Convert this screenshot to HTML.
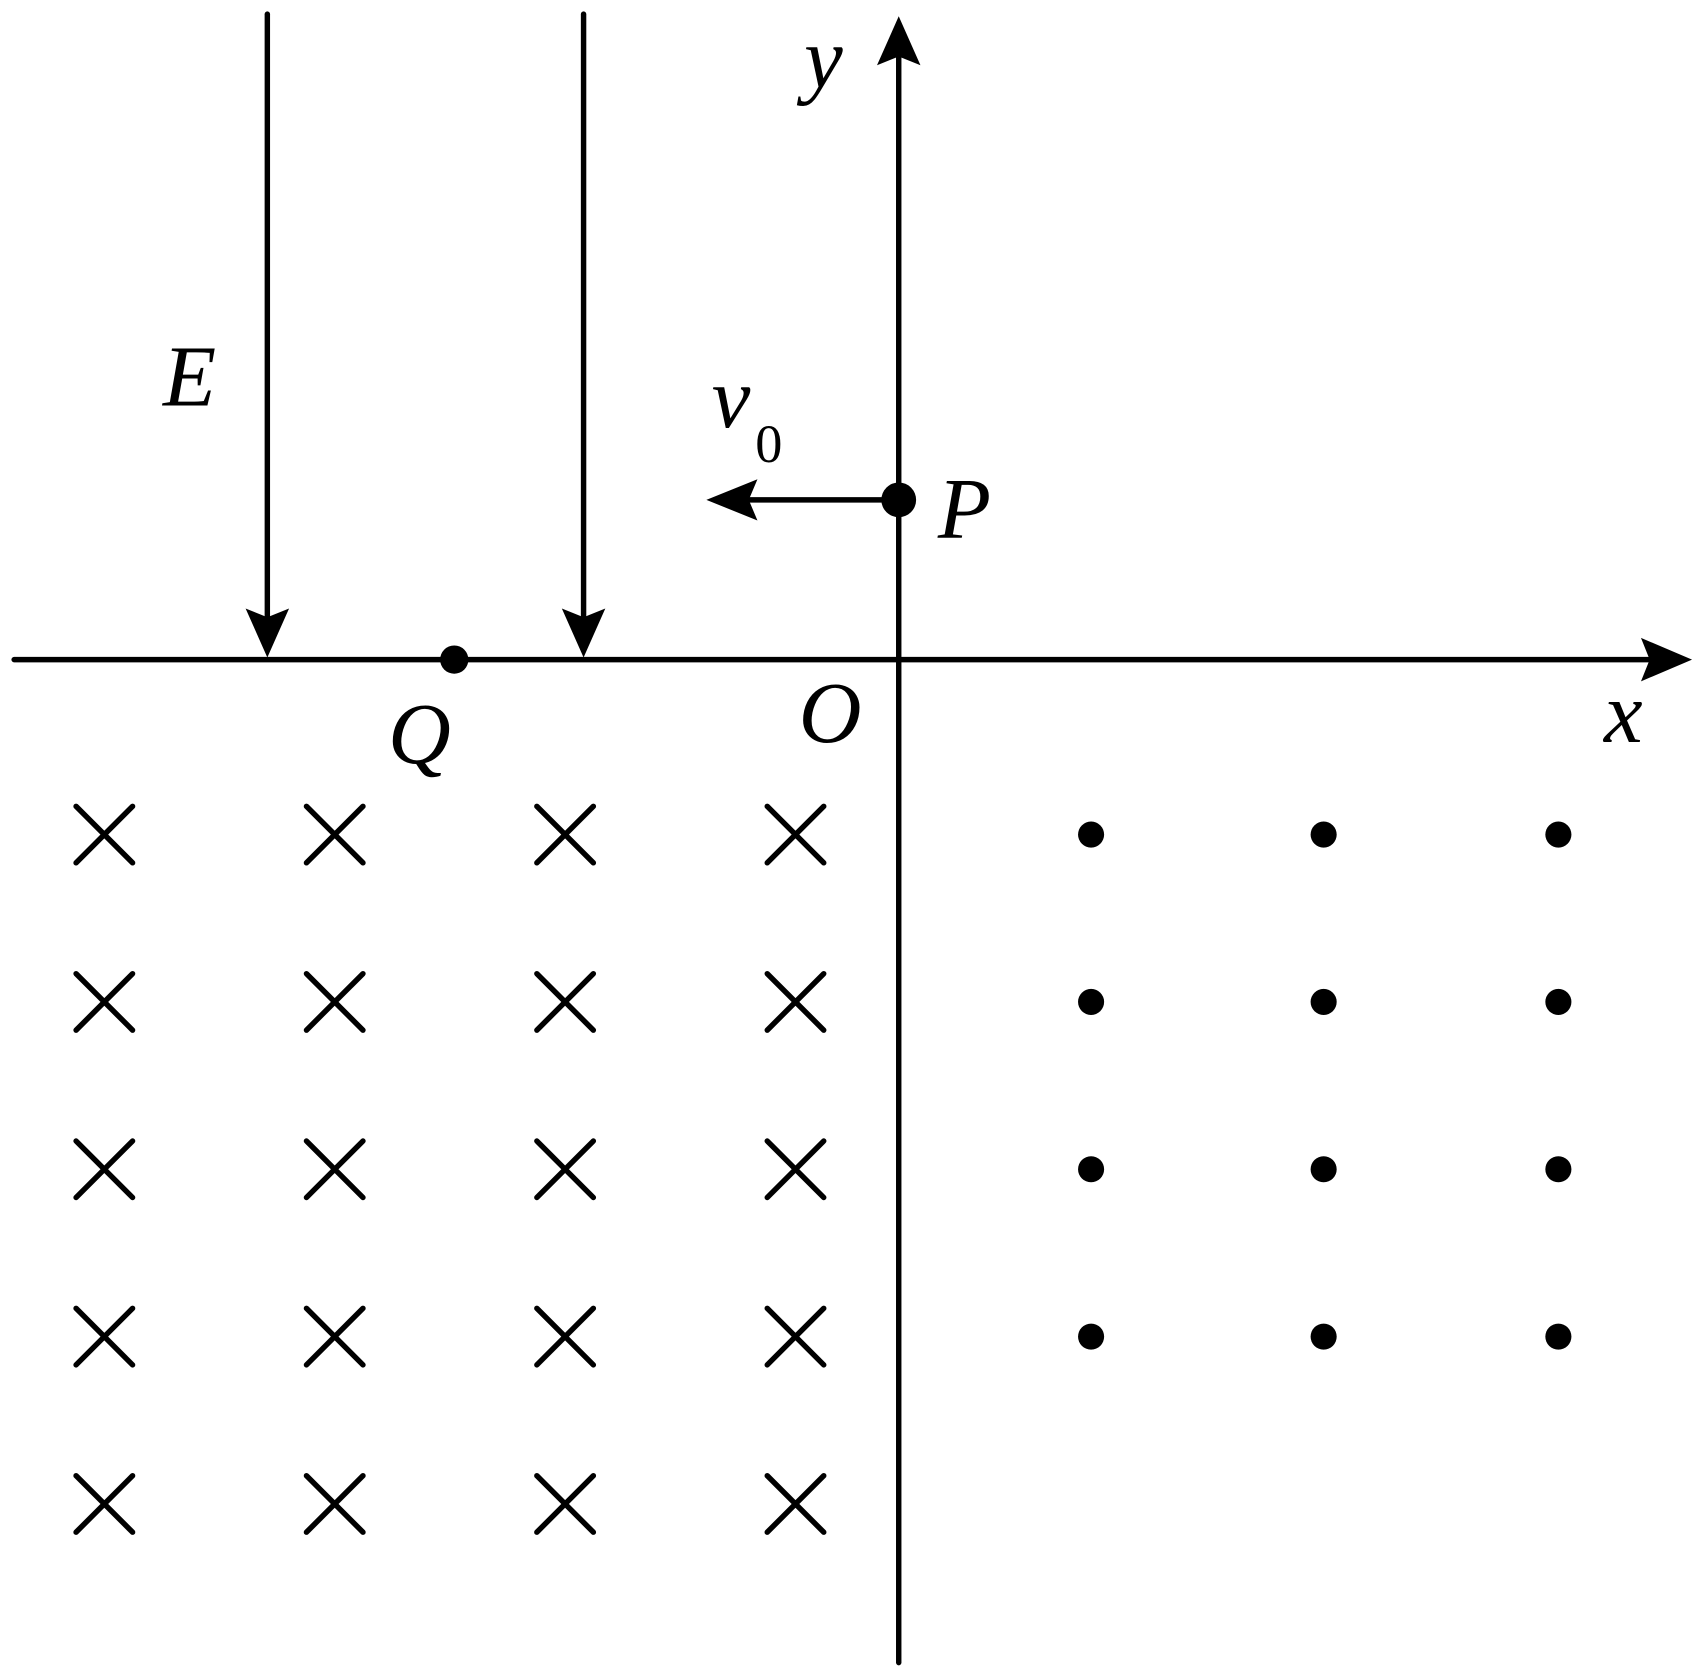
<!DOCTYPE html>
<html><head><style>html,body{margin:0;padding:0;background:#fff}svg{display:block}
.t{font-family:"Liberation Serif","Times New Roman",serif;font-style:italic;font-size:80px}
.s{font-family:"Liberation Serif","Times New Roman",serif;font-size:50px}</style></head>
<body>
<svg width="1704" height="1680" viewBox="0 0 1568 1546" preserveAspectRatio="none" xmlns="http://www.w3.org/2000/svg">
<defs>
<g id="x"><line x1="-26" y1="-26" x2="26" y2="26"/><line x1="-26" y1="26" x2="26" y2="-26"/></g>
</defs>
<g stroke="#000" stroke-width="5" stroke-linecap="round" fill="none">
<line x1="13" y1="607" x2="1530" y2="607"/>
<line x1="827" y1="40" x2="827" y2="1530"/>
<line x1="246" y1="13" x2="246" y2="585"/>
<line x1="537" y1="13" x2="537" y2="585"/>
<line x1="827" y1="460" x2="680" y2="460"/>
<g>
<use href="#x" x="96" y="768"/><use href="#x" x="308" y="768"/><use href="#x" x="520" y="768"/><use href="#x" x="732" y="768"/>
<use href="#x" x="96" y="922"/><use href="#x" x="308" y="922"/><use href="#x" x="520" y="922"/><use href="#x" x="732" y="922"/>
<use href="#x" x="96" y="1076"/><use href="#x" x="308" y="1076"/><use href="#x" x="520" y="1076"/><use href="#x" x="732" y="1076"/>
<use href="#x" x="96" y="1230"/><use href="#x" x="308" y="1230"/><use href="#x" x="520" y="1230"/><use href="#x" x="732" y="1230"/>
<use href="#x" x="96" y="1384"/><use href="#x" x="308" y="1384"/><use href="#x" x="520" y="1384"/><use href="#x" x="732" y="1384"/>
</g>
</g>
<g fill="#000">
<polygon points="827,15 847,60 827,52 807,60"/>
<polygon points="1557,607 1510,627 1518,607 1510,587"/>
<polygon points="246,605 226,560 246,568 266,560"/>
<polygon points="537,605 517,560 537,568 557,560"/>
<polygon points="650,460 697,441 689,460 697,479"/>
<circle cx="827" cy="460" r="16"/>
<circle cx="418" cy="607" r="13"/>
<g>
<circle cx="1004" cy="768" r="12"/><circle cx="1218" cy="768" r="12"/><circle cx="1434" cy="768" r="12"/>
<circle cx="1004" cy="922" r="12"/><circle cx="1218" cy="922" r="12"/><circle cx="1434" cy="922" r="12"/>
<circle cx="1004" cy="1076" r="12"/><circle cx="1218" cy="1076" r="12"/><circle cx="1434" cy="1076" r="12"/>
<circle cx="1004" cy="1230" r="12"/><circle cx="1218" cy="1230" r="12"/><circle cx="1434" cy="1230" r="12"/>
</g>
<text class="t" x="740" y="80">y</text>
<text class="t" x="150" y="373">E</text>
<text class="t" x="655" y="393">v</text>
<text class="t" x="863" y="495">P</text>
<text class="t" x="357" y="702">Q</text>
<text class="t" x="735" y="683">O</text>
<text class="t" x="1476" y="683">x</text>
<text class="s" x="695" y="425">0</text>
</g>
</svg>
</body></html>
